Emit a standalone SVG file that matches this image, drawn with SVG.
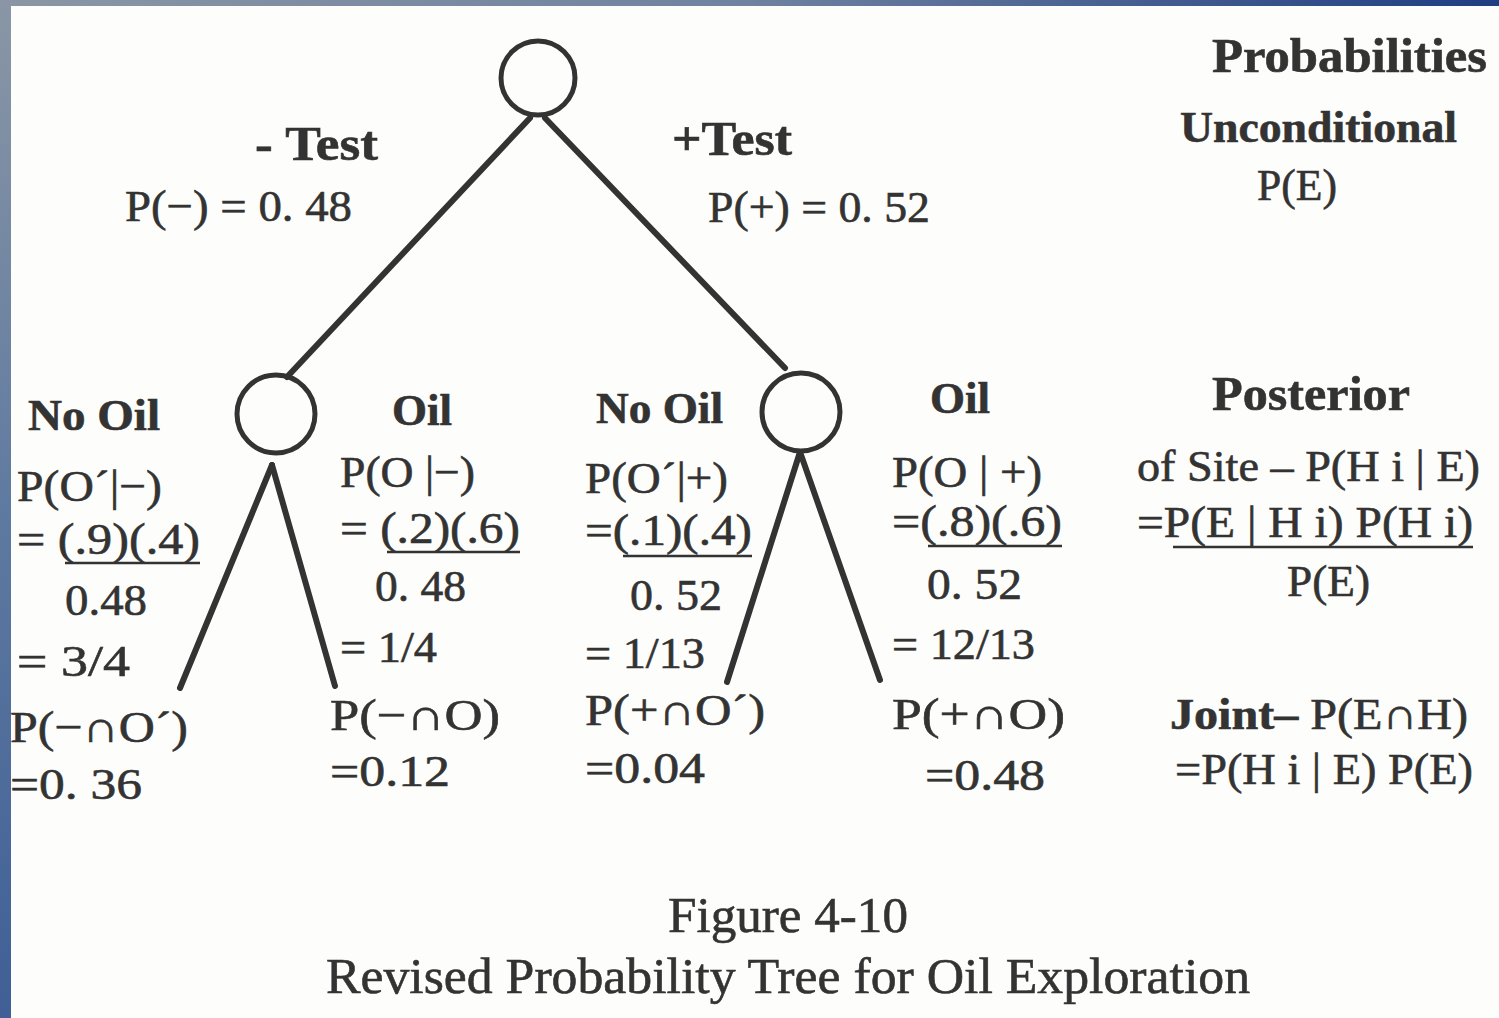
<svg xmlns="http://www.w3.org/2000/svg" width="1499" height="1018" viewBox="0 0 1499 1018">
<defs>
<linearGradient id="gTop" x1="0" y1="0" x2="1" y2="0">
<stop offset="0" stop-color="#8a96a5"/>
<stop offset="0.5" stop-color="#6f82a0"/>
<stop offset="1" stop-color="#1f3d82"/>
</linearGradient>
<linearGradient id="gLeft" x1="0" y1="0" x2="0" y2="1">
<stop offset="0" stop-color="#8a96a5"/>
<stop offset="0.5" stop-color="#5f7aa0"/>
<stop offset="1" stop-color="#3f5f96"/>
</linearGradient>
<style>
.t{font-family:"Liberation Serif","Times New Roman",serif;fill:#333;stroke:#333;stroke-width:0.6;font-size:44px}
.b{font-weight:bold}
.h{font-size:48px}
.c{font-size:50px}
.node{fill:none;stroke:#333;stroke-width:5}
.edge{stroke:#333;stroke-width:6;stroke-linecap:round;fill:none}
.ul{stroke:#333;stroke-width:2.5}
</style>
</defs>
<rect x="0" y="0" width="1499" height="1018" fill="#fdfdfb"/>
<rect x="0" y="0" width="1499" height="6" fill="url(#gTop)"/>
<rect x="0" y="0" width="11" height="1018" fill="url(#gLeft)"/>

<g id="connectors">
<line class="edge" x1="530" y1="118" x2="287" y2="377"/>
<line class="edge" x1="545" y1="118" x2="785" y2="368"/>
<line class="edge" x1="272" y1="465" x2="180" y2="688"/>
<line class="edge" x1="272" y1="465" x2="335" y2="686"/>
<line class="edge" x1="800" y1="452" x2="727" y2="682"/>
<line class="edge" x1="800" y1="452" x2="880" y2="680"/>
</g>

<g id="node-root"><circle class="node" cx="538" cy="78" r="37"/></g>
<g id="node-minus"><circle class="node" cx="276" cy="414" r="39"/></g>
<g id="node-plus"><circle class="node" cx="801" cy="412" r="39"/></g>

<g id="label-minus-test">
<text class="t b h" x="255" y="160" textLength="123" lengthAdjust="spacingAndGlyphs">- Test</text>
<text class="t" x="125" y="221" textLength="227" lengthAdjust="spacingAndGlyphs">P(−) = 0. 48</text>
</g>
<g id="label-plus-test">
<text class="t b h" x="672" y="155" textLength="120" lengthAdjust="spacingAndGlyphs">+Test</text>
<text class="t" x="708" y="222" textLength="222" lengthAdjust="spacingAndGlyphs">P(+) = 0. 52</text>
</g>

<g id="legend-unconditional">
<text class="t b h" x="1212" y="72" textLength="275" lengthAdjust="spacingAndGlyphs">Probabilities</text>
<text class="t b" x="1180" y="142" textLength="277" lengthAdjust="spacingAndGlyphs">Unconditional</text>
<text class="t" x="1257" y="200" textLength="80" lengthAdjust="spacingAndGlyphs">P(E)</text>
</g>

<g id="leaf-minus-nooil">
<text class="t b" x="28" y="430" textLength="132" lengthAdjust="spacingAndGlyphs">No Oil</text>
<text class="t" x="17" y="501" textLength="145" lengthAdjust="spacingAndGlyphs">P(O´|−)</text>
<text class="t" x="17" y="554" textLength="183" lengthAdjust="spacingAndGlyphs">= (.9)(.4)</text>
<line class="ul" x1="65" y1="563" x2="200" y2="563"/>
<text class="t" x="65" y="615" textLength="82" lengthAdjust="spacingAndGlyphs">0.48</text>
<text class="t" x="17" y="676" textLength="113" lengthAdjust="spacingAndGlyphs">=  3/4</text>
<text class="t" x="10" y="742" textLength="178" lengthAdjust="spacingAndGlyphs">P(−∩O´)</text>
<text class="t" x="10" y="799" textLength="132" lengthAdjust="spacingAndGlyphs">=0. 36</text>
</g>

<g id="leaf-minus-oil">
<text class="t b" x="392" y="425" textLength="60" lengthAdjust="spacingAndGlyphs">Oil</text>
<text class="t" x="340" y="487" textLength="135" lengthAdjust="spacingAndGlyphs">P(O |−)</text>
<text class="t" x="340" y="543" textLength="180" lengthAdjust="spacingAndGlyphs">= (.2)(.6)</text>
<line class="ul" x1="387" y1="552" x2="520" y2="552"/>
<text class="t" x="375" y="601" textLength="91" lengthAdjust="spacingAndGlyphs">0. 48</text>
<text class="t" x="340" y="662" textLength="97" lengthAdjust="spacingAndGlyphs">= 1/4</text>
<text class="t" x="330" y="730" textLength="170" lengthAdjust="spacingAndGlyphs">P(−∩O)</text>
<text class="t" x="330" y="786" textLength="120" lengthAdjust="spacingAndGlyphs">=0.12</text>
</g>

<g id="leaf-plus-nooil">
<text class="t b" x="596" y="423" textLength="127" lengthAdjust="spacingAndGlyphs">No Oil</text>
<text class="t" x="585" y="493" textLength="143" lengthAdjust="spacingAndGlyphs">P(O´|+)</text>
<text class="t" x="585" y="545" textLength="167" lengthAdjust="spacingAndGlyphs">=(.1)(.4)</text>
<line class="ul" x1="623" y1="556" x2="752" y2="556"/>
<text class="t" x="630" y="610" textLength="92" lengthAdjust="spacingAndGlyphs">0. 52</text>
<text class="t" x="585" y="668" textLength="120" lengthAdjust="spacingAndGlyphs">= 1/13</text>
<text class="t" x="585" y="725" textLength="180" lengthAdjust="spacingAndGlyphs">P(+∩O´)</text>
<text class="t" x="585" y="783" textLength="120" lengthAdjust="spacingAndGlyphs">=0.04</text>
</g>

<g id="leaf-plus-oil">
<text class="t b" x="930" y="413" textLength="60" lengthAdjust="spacingAndGlyphs">Oil</text>
<text class="t" x="892" y="487" textLength="150" lengthAdjust="spacingAndGlyphs">P(O | +)</text>
<text class="t" x="892" y="536" textLength="170" lengthAdjust="spacingAndGlyphs">=(.8)(.6)</text>
<line class="ul" x1="928" y1="546" x2="1062" y2="546"/>
<text class="t" x="927" y="599" textLength="95" lengthAdjust="spacingAndGlyphs">0. 52</text>
<text class="t" x="892" y="659" textLength="143" lengthAdjust="spacingAndGlyphs">= 12/13</text>
<text class="t" x="892" y="729" textLength="173" lengthAdjust="spacingAndGlyphs">P(+∩O)</text>
<text class="t" x="925" y="790" textLength="120" lengthAdjust="spacingAndGlyphs">=0.48</text>
</g>

<g id="legend-posterior">
<text class="t b h" x="1212" y="410" textLength="198" lengthAdjust="spacingAndGlyphs">Posterior</text>
<text class="t" x="1137" y="481" textLength="343" lengthAdjust="spacingAndGlyphs">of Site – P(H i | E)</text>
<text class="t" x="1137" y="537" textLength="336" lengthAdjust="spacingAndGlyphs">=P(E | H i) P(H i)</text>
<line class="ul" x1="1173" y1="547" x2="1473" y2="547"/>
<text class="t" x="1287" y="596" textLength="83" lengthAdjust="spacingAndGlyphs">P(E)</text>
</g>

<g id="legend-joint">
<text class="t" x="1170" y="729" textLength="298" lengthAdjust="spacingAndGlyphs"><tspan class="b">Joint–</tspan> P(E∩H)</text>
<text class="t" x="1175" y="784" textLength="298" lengthAdjust="spacingAndGlyphs">=P(H i | E) P(E)</text>
</g>

<g id="caption">
<text class="t c" x="668" y="932" textLength="240" lengthAdjust="spacingAndGlyphs">Figure 4-10</text>
<text class="t c" x="326" y="993" textLength="924" lengthAdjust="spacingAndGlyphs">Revised Probability Tree for Oil Exploration</text>
</g>
</svg>
